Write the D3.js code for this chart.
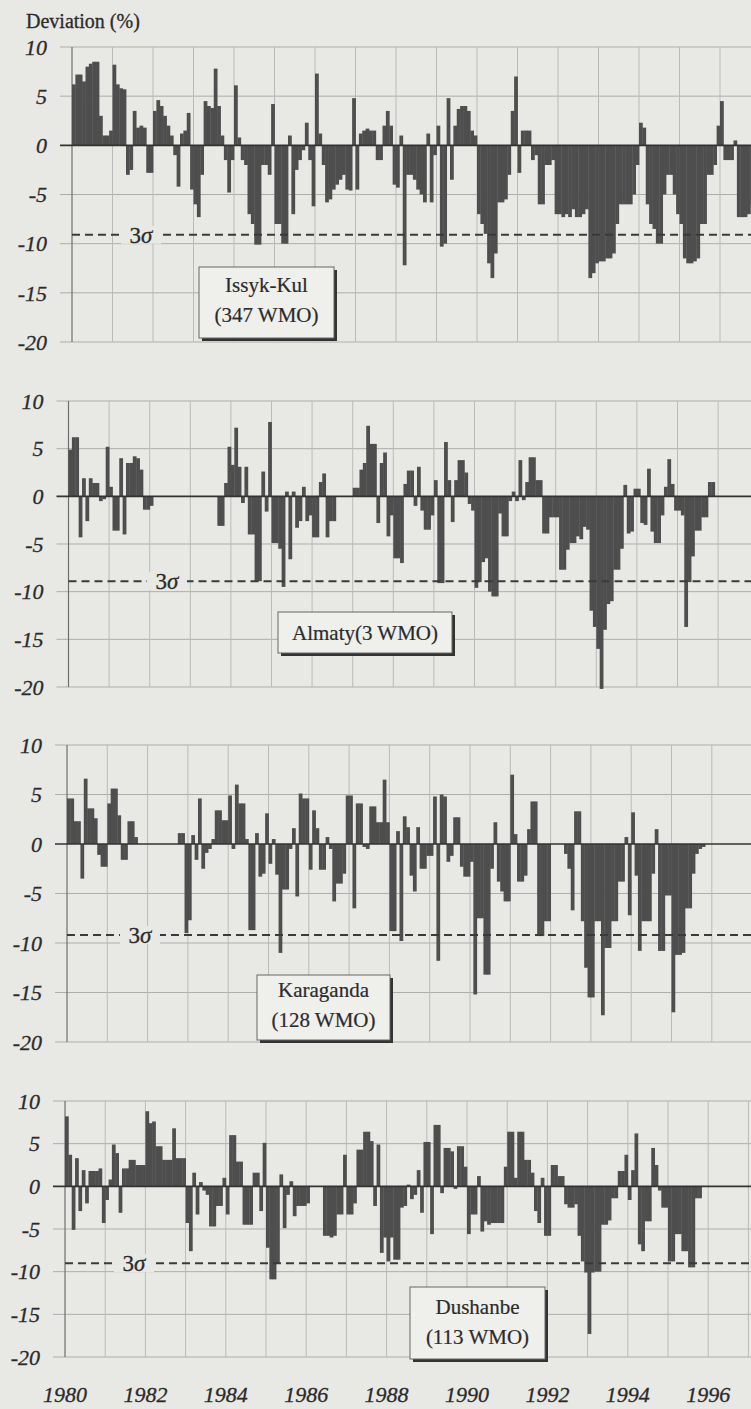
<!DOCTYPE html>
<html>
<head>
<meta charset="utf-8">
<script src="https://cdn.jsdelivr.net/npm/d3@7"></script>
<style>
  body { margin: 0; background: #e8e8e4; }
  svg { display: block; }
</style>
</head>
<body>
<div id="chart"></div>
<script>
// monthly deviations (%) from Jan 1980, one value per month
const issykKul = [
  6.2, 7.2, 7.2, 6.5, 8.0, 8.3, 8.5, 8.5, 3.0, 1.0, 1.0, 1.5,
  8.2, 6.2, 5.8, 5.7, -3.0, -2.5, 3.5, 1.8, 2.0, 1.8, -2.8, -2.8,
  3.5, 4.6, 4.0, 3.0, 2.0, 1.0, -1.0, -4.2, 1.2, 1.5, 3.3, -4.5,
  -6.0, -7.3, -3.0, 4.5, 4.0, 3.8, 7.8, 4.0, 1.0, -1.5, -4.8, -1.5,
  6.1, 0.8, -1.5, -2.0, -7.0, -8.0, -10.1, -10.1, -2.0, -2.0, -3.0, 4.2,
  -8.0, -8.0, -10.0, -10.0, 1.0, -7.0, -2.5, -1.5, -0.5, 2.3, -1.5, -6.2,
  7.3, 1.2, -2.0, -5.8, -5.5, -4.5, -4.0, -3.5, -3.0, -4.5, -4.6, 4.8,
  -4.5, 1.2, 1.5, 1.7, 1.5, 1.5, -1.5, -1.5, 2.0, 3.5, 2.0, -4.0,
  -4.3, 1.0, -12.2, -3.0, -3.0, -3.5, -4.5, -5.0, -5.8, 1.2, -5.8, -1.0,
  2.0, -10.3, -10.0, 4.8, -3.5, 2.0, 3.7, 4.0, 4.0, 3.5, 1.5, 1.0,
  -7.0, -8.0, -9.0, -12.0, -13.5, -11.0, -5.8, -5.8, -5.5, -3.0, 3.5, 7.0,
  -2.8, 1.5, 1.5, 1.5, -1.5, -1.0, -6.0, -6.0, -2.0, -2.0, -1.5, -7.0,
  -7.0, -7.3, -7.0, -7.3, -6.5, -7.3, -7.3, -7.0, -6.5, -13.5, -13.0, -12.0,
  -11.8, -11.8, -11.5, -11.5, -11.0, -8.0, -6.0, -6.0, -6.0, -6.0, -5.0, -2.0,
  2.3, 1.8, -6.0, -8.0, -8.5, -10.0, -10.0, -5.0, -3.0, -3.0, -5.0, -7.0,
  -8.0, -11.5, -12.0, -12.0, -11.8, -11.5, -8.0, -8.0, -3.0, -3.0, -2.0, 2.0,
  4.5, -1.5, -1.5, -1.5, 0.5, -7.3, -7.3, -7.3, -7.0, -6.0
];

const almaty = [
  4.9, 6.2, 6.2, -4.3, 1.9, -2.6, 1.9, 1.4, 1.4, -0.5, -0.3, 5.2,
  1.0, -3.6, -3.6, 4.0, -4.0, 3.5, 3.5, 4.2, 4.0, 2.8, -1.4, -1.4,
  -1.0, 0, 0, 0, 0, 0, 0, 0, 0, 0, 0, 0,
  0, 0, 0, 0, 0, 0, 0, 0, -3.1, -3.1, 1.4, 5.2,
  3.3, 7.2, 3.1, -0.7, 3.1, -4.0, -4.0, -8.9, -8.9, 2.6, -1.6, 7.8,
  -4.9, -4.9, -5.5, -9.5, 0.5, -6.6, 0.5, -3.3, -2.6, 1.0, -2.6, -2.0,
  -4.3, -4.3, 1.5, 2.4, -4.3, -2.6, -2.6, 0, 0, 0, 0, 0,
  0.9, 0.9, 2.8, 3.5, 7.4, 5.5, 5.5, -2.8, 3.5, 4.6, -4.2, -2.0,
  -6.5, -6.5, -7.0, 1.3, 2.7, 2.7, -1.0, 3.1, -1.5, -3.5, -3.5, -2.0,
  1.7, -9.1, -9.1, 5.7, 1.7, -2.7, 1.7, 3.8, 3.8, 2.5, -0.8, -1.5,
  -9.6, -9.0, -6.9, -6.5, -10.0, -10.5, -10.5, -1.8, -4.2, -4.2, -0.5, 0.5,
  -0.5, 3.8, -0.4, 1.5, 4.1, 4.1, 1.7, 1.7, -3.9, -3.9, -2.2, -2.2,
  -2.2, -7.7, -7.7, -5.6, -4.9, -4.9, -4.2, -4.5, -3.2, -3.5, -12.0, -13.7,
  -16.0, -20.2, -14.0, -11.3, -11.0, -7.7, -7.7, -5.5, 1.2, -3.9, -3.7, 0.8,
  0.8, -2.8, -3.0, 2.9, -3.7, -4.9, -4.9, -2.0, 1.0, 3.9, 1.3, -1.5,
  -1.5, -2.0, -13.7, -9.0, -6.3, -3.6, -3.6, -2.2, -2.2, 1.5, 1.5
];

const karaganda = [
  4.6, 4.6, 2.3, 2.3, -3.5, 6.6, 3.6, 3.6, 2.6, -1.1, -2.3, -2.3,
  4.1, 5.6, 5.6, 2.9, -1.6, -1.6, 2.3, 2.3, 0.7, 0, 0, 0,
  0, 0, 0, 0, 0, 0, 0, 0, 0, 1.1, 1.1, -9.0,
  -7.7, 0.9, -1.6, 4.6, -2.5, -0.9, -0.5, 0.5, 3.4, 3.4, 2.4, 2.4,
  4.9, -0.5, 6.0, 4.1, 4.1, 0.5, -8.7, -8.7, 1.1, -3.3, -3.0, 3.1,
  -2.0, 0.5, -3.1, -11.0, -4.6, -4.6, -0.5, 1.6, -5.3, 5.1, 4.6, 4.6,
  -2.6, 3.4, 1.6, -2.6, -2.6, 0.7, -0.5, -5.8, -4.0, -4.0, -3.0, 4.9,
  4.9, -6.5, 4.1, 4.1, -0.3, -0.5, 3.8, 3.8, 2.2, 2.2, 6.5, 2.2,
  -8.8, -8.8, 1.3, -9.8, 2.8, 1.7, -3.2, -4.8, 1.7, -2.5, -2.5, -1.2,
  -1.2, 4.8, -11.8, 5.0, 4.8, -1.8, -1.2, 2.7, 2.7, -2.3, -3.3, -3.3,
  -1.8, -15.2, -7.5, -7.5, -13.2, -13.2, -2.5, 2.2, -3.8, -4.8, -5.8, -5.8,
  7.0, 1.0, -3.8, -3.8, -3.2, 1.5, 4.3, 4.3, -9.3, -9.3, -7.8, -7.8,
  0, 0, 0, 0, -1.0, -2.5, -6.7, 3.3, 3.3, -7.8, -12.5, -15.5,
  -15.5, -7.8, -7.8, -17.3, -10.5, -10.5, -7.8, -7.8, -3.8, -3.8, 0.7, -7.2,
  3.2, -3.2, -10.8, -7.8, -7.8, -7.8, -3.0, 1.5, -10.8, -10.8, -5.2, -5.2,
  -17.0, -11.2, -11.2, -11.0, -6.5, -6.5, -3.0, -1.0, -0.5, -0.3
];

const dushanbe = [
  8.2, 3.7, -5.1, 3.3, -2.9, 1.9, -2.0, 1.8, 1.8, 1.8, 2.1, -4.3,
  -1.6, 0.8, 4.9, 3.9, -3.1, 2.1, 2.1, 3.1, 3.1, 2.5, 2.5, 2.5,
  8.8, 7.4, 7.6, 4.7, 4.7, 3.1, 3.1, 3.1, 6.8, 3.3, 3.3, 3.3,
  -4.3, -7.6, 1.6, -3.3, 0.5, -0.5, -1.0, -4.7, -4.7, -2.3, -2.3, 1.0,
  -3.3, 6.0, 6.0, 2.9, 2.9, -4.5, -4.5, -4.5, 1.6, 1.6, -2.9, 5.1,
  -7.2, -10.9, -10.9, -9.0, 1.4, -4.9, -1.0, 0.6, -3.5, -2.3, -2.3, -2.3,
  -2.0, 0, 0, 0, 0, -5.8, -5.8, -6.0, -5.8, -3.3, -3.3, 3.7,
  -3.3, -3.3, -2.0, 4.3, 4.3, 6.4, 6.4, 5.3, -2.3, 4.9, -7.8, -6.0,
  -8.8, -6.0, -8.6, -8.6, -2.5, -2.3, 0.2, -1.5, -1.0, 1.9, -3.1, 5.2,
  5.2, -5.6, 7.2, 7.2, -0.8, 4.5, 4.5, 4.1, -0.3, 4.7, 4.7, 2.3,
  -5.6, -3.3, -3.3, 1.2, -5.3, -4.1, -4.5, -4.3, -4.3, -4.3, -4.3, 2.3,
  6.4, 6.4, 1.0, 6.4, 6.4, 3.1, 3.1, 1.6, -2.9, -4.3, 1.0, -5.8,
  -5.8, 2.5, 2.5, 1.2, 1.2, -2.1, -2.5, -2.5, -2.1, -5.8, -8.8, -10.1,
  -17.3, -10.1, -10.0, -10.0, -4.5, -4.5, -4.0, -1.4, -1.4, 1.8, 1.8, 3.7,
  -1.6, 1.9, 6.2, -6.8, -7.6, -4.1, -4.1, 4.5, 2.5, -0.5, -2.5, -2.5,
  -8.8, -8.8, -5.6, -5.6, -7.6, -7.6, -9.5, -9.5, -1.4, -1.4
];

const series = [issykKul, almaty, karaganda, dushanbe];
const stationLabels = [["Issyk-Kul", "(347 WMO)"], ["Almaty(3 WMO)"], ["Karaganda", "(128 WMO)"], ["Dushanbe", "(113 WMO)"]];
const sigma3 = [-9.1, -8.9, -9.2, -9.0];
const yTicks = [10, 5, 0, -5, -10, -15, -20];
const gridYears = d3.range(1980, 1998);
const yearLabels = [1980, 1982, 1984, 1986, 1988, 1990, 1992, 1994, 1996];
const startYear = 1980;

const W = 751, H = 1409;

// the scanned panels are slightly skewed, so each one gets its own frame
const panels = [
  { top: 47, bottom: 342, left: 72, yr: 40.5, sigX: 141, box: [199, 267, 135, 71], lines: [292, 322] },
  { top: 401, bottom: 687, left: 68.5, yr: 40.6, sigX: 167, box: [278, 612, 174, 41], lines: [640] },
  { top: 745, bottom: 1042, left: 67, yr: 40.3, sigX: 140, box: [257, 975, 133, 65], lines: [997, 1027] },
  { top: 1101, bottom: 1357, left: 65, yr: 40.2, sigX: 134, box: [410, 1287, 135, 72], lines: [1314, 1344] }
];

const serif = "'Liberation Serif', 'Times New Roman', serif";
const bg = "#e8e8e4";
const ink = "#2b2b2b";

const svg = d3.select("#chart").append("svg")
  .attr("width", W)
  .attr("height", H);

svg.append("rect").attr("width", W).attr("height", H).attr("fill", bg);

svg.append("text")
  .attr("x", 26).attr("y", 28)
  .attr("font-family", serif).attr("font-size", 20)
  .attr("fill", ink).attr("stroke", ink).attr("stroke-width", 0.3)
  .text("Deviation (%)");

panels.forEach((p, i) => {
  const x = d3.scaleLinear().domain([startYear, startYear + 17]).range([p.left, p.left + 17 * p.yr]);
  const y = d3.scaleLinear().domain([-20, 10]).range([p.bottom, p.top]);
  const g = svg.append("g");

  // grid
  g.selectAll(".hgrid").data(yTicks.filter(t => t !== 0)).enter().append("line")
    .attr("x1", p.left - 12).attr("x2", W)
    .attr("y1", d => y(d)).attr("y2", d => y(d))
    .attr("stroke", "#adadaa").attr("stroke-width", 1);

  g.selectAll(".vgrid").data(gridYears.slice(1)).enter().append("line")
    .attr("x1", d => x(d)).attr("x2", d => x(d))
    .attr("y1", y(10)).attr("y2", y(-20))
    .attr("stroke", "#bababa").attr("stroke-width", 1);

  g.append("line")
    .attr("x1", p.left).attr("x2", p.left)
    .attr("y1", y(10)).attr("y2", y(-20))
    .attr("stroke", "#6e6e6e").attr("stroke-width", 1.2);

  // tick labels
  g.selectAll(".ylab").data(yTicks).enter().append("text")
    .attr("x", p.left - 25).attr("y", d => y(d)).attr("dy", "0.35em")
    .attr("text-anchor", "end")
    .attr("font-family", serif).attr("font-style", "italic").attr("font-size", 22)
    .attr("fill", ink).attr("stroke", ink).attr("stroke-width", 0.3)
    .text(d => d);

  // monthly bars
  const vals = series[i];
  g.selectAll(".bar").data(vals).enter().append("rect")
    .attr("x", (d, m) => x(startYear + m / 12))
    .attr("width", (d, m) => x(startYear + (m + 1) / 12) - x(startYear + m / 12) + 0.4)
    .attr("y", d => y(Math.max(0, d)))
    .attr("height", d => Math.abs(y(d) - y(0)))
    .attr("fill", "#4e4e4e");

  // zero line
  g.append("line")
    .attr("x1", p.left - 12).attr("x2", W)
    .attr("y1", y(0)).attr("y2", y(0))
    .attr("stroke", "#333").attr("stroke-width", 1.6);

  // 3 sigma line
  g.append("line")
    .attr("x1", p.left).attr("x2", W)
    .attr("y1", y(sigma3[i])).attr("y2", y(sigma3[i]))
    .attr("stroke", "#3a3a3a").attr("stroke-width", 2)
    .attr("stroke-dasharray", "8,5");

  g.append("rect")
    .attr("x", p.sigX - 20).attr("y", y(sigma3[i]) - 9)
    .attr("width", 40).attr("height", 18)
    .attr("fill", bg);

  const sig = g.append("text")
    .attr("x", p.sigX).attr("y", y(sigma3[i])).attr("dy", "0.35em")
    .attr("text-anchor", "middle")
    .attr("font-family", serif).attr("font-size", 23)
    .attr("fill", ink).attr("stroke", ink).attr("stroke-width", 0.3);
  sig.append("tspan").text("3");
  sig.append("tspan").attr("font-style", "italic").text("σ");

  // station box
  const [bx, by, bw, bh] = p.box;
  g.append("rect")
    .attr("x", bx + 3).attr("y", by + 3).attr("width", bw).attr("height", bh)
    .attr("fill", "#333");
  g.append("rect")
    .attr("x", bx).attr("y", by).attr("width", bw).attr("height", bh)
    .attr("fill", "#efefec").attr("stroke", "#666").attr("stroke-width", 1);

  g.selectAll(".lab").data(stationLabels[i]).enter().append("text")
    .attr("x", bx + bw / 2).attr("y", (d, k) => p.lines[k])
    .attr("text-anchor", "middle")
    .attr("font-family", serif).attr("font-size", 21)
    .attr("fill", ink).attr("stroke", ink).attr("stroke-width", 0.2)
    .text(d => d);

  // year labels below the last panel
  if (i === panels.length - 1) {
    g.selectAll(".xlab").data(yearLabels).enter().append("text")
      .attr("x", d => x(d)).attr("y", 1402)
      .attr("text-anchor", "middle")
      .attr("font-family", serif).attr("font-style", "italic").attr("font-size", 22)
      .attr("fill", ink).attr("stroke", ink).attr("stroke-width", 0.3)
      .text(d => d);
  }
});
</script>
</body>
</html>
